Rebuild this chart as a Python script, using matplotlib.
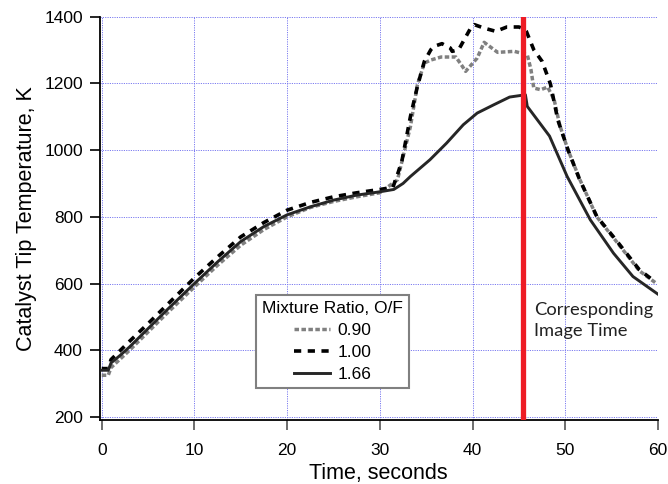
import matplotlib
matplotlib.use("Agg")
import matplotlib.pyplot as plt

# ---- data ----
t_090 = [0, 0.7, 1.0, 3, 5, 7, 10, 12.5, 15, 17.5, 20, 22.5, 25, 27.5, 30, 31.9, 32.6, 33.3,
         34.05, 34.8, 35.5, 36.6, 38.2, 38.9, 39.25, 40.5, 41.25, 42.7, 44.5, 45.9, 46.3, 46.6,
         47.35, 48.1, 48.8, 49.4, 50.3, 51.6, 53.4, 55.4, 58.0, 59.7]
T_090 = [325, 325, 348, 400, 455, 510, 590, 655, 715, 762, 800, 828, 846, 860, 872, 911, 991, 1071,
         1196, 1261, 1270, 1279, 1279, 1251, 1236, 1276, 1323, 1293, 1296, 1286, 1241, 1186,
         1181, 1189, 1151, 1075, 1000, 910, 800, 730, 638, 603]

t_100 = [0, 0.7, 1.0, 3, 5, 7, 10, 12.5, 15, 17.5, 20, 22.5, 25, 27.5, 30, 31.4, 32.0, 32.4,
         33.3, 34.05, 34.8, 35.5, 35.85, 36.7, 37.6, 37.8, 38.5, 39.3, 39.8, 40.2, 41.2, 42.5,
         43.7, 45.0, 45.6, 45.8, 46.6, 47.5, 48.4, 49.2, 50.3, 51.5, 53.4, 55.4, 58.0, 59.7]
T_100 = [345, 345, 372, 427, 480, 535, 617, 680, 740, 783, 820, 843, 860, 872, 882, 888, 935, 971,
         1101, 1191, 1266, 1301, 1311, 1319, 1306, 1296, 1301, 1341, 1366, 1376, 1366, 1356,
         1369, 1369, 1362, 1356, 1301, 1266, 1198, 1090, 1000, 915, 801, 733, 641, 605]

t_166 = [0, 0.7, 1.0, 2, 3, 5, 7, 10, 12.5, 15, 17.5, 20, 22.5, 25, 27.5, 30, 31.5, 32.5, 33.3,
         35.4, 37.2, 39.0, 40.5, 42.3, 44.0, 45.0, 45.7, 45.9, 48.3, 50.2, 52.7, 55.2,
         57.3, 60]
T_166 = [340, 340, 362, 385, 410, 465, 520, 600, 665, 726, 771, 806, 830, 850, 865, 875, 882, 900,
         921, 971, 1021, 1076, 1111, 1136, 1159, 1163, 1166, 1131, 1042, 921, 791, 691,
         621, 568]

series_labels = ["0.90", "1.00", "1.66"]
legend_title = "Mixture Ratio, O/F"
image_time = 45.4
x_ticks = [0, 10, 20, 30, 40, 50, 60]
y_ticks = [200, 400, 600, 800, 1000, 1200, 1400]

# ---- figure ----
plt.rcParams['font.family'] = ['Liberation Sans', 'DejaVu Sans']
fig = plt.figure(figsize=(6.68, 4.84), dpi=100)
ax = fig.add_axes([0.149, 0.1316, 0.836, 0.834])

ax.plot(t_090, T_090, color='#808080', lw=2.5, dashes=(1.3, 0.7), label=series_labels[0], zorder=3)
ax.plot(t_100, T_100, color='black', lw=2.6, dashes=(2.0, 1.8), label=series_labels[1], zorder=4)
ax.plot(t_166, T_166, color='#262626', lw=2.1, label=series_labels[2], zorder=5)

ax.plot([image_time, image_time], [200, 1400], color='#ee1c25', lw=3.8, zorder=6)
ax.text(46.6, 489, "Corresponding\nImage Time", family=['Lato', 'DejaVu Sans'],
        fontsize=13.2, va='center', ha='left', linespacing=1.35, color='#222222')

ax.set_xlim(-0.24, 60)
ax.set_ylim(190, 1400)
ax.set_xticks(x_ticks)
ax.set_yticks(y_ticks)
ax.grid(True, color='#7b7bf0', linestyle=(0, (1.2, 1.2)), linewidth=0.7)
ax.set_axisbelow(True)
for s in ['top', 'right']:
    ax.spines[s].set_visible(False)
for s in ['left', 'bottom']:
    ax.spines[s].set_linewidth(1.3)
ax.tick_params(axis='both', direction='out', length=7, width=1.2, labelsize=12.5)
ax.tick_params(axis='y', pad=5)
ax.tick_params(axis='x', pad=9, color='#555555')

ax.set_xlabel("Time, seconds", fontsize=15.5, labelpad=4)
ax.set_ylabel("Catalyst Tip Temperature, K", fontsize=15.5, labelpad=5)

leg = ax.legend(title=legend_title, loc='upper left', bbox_to_anchor=(0.280, 0.3105),
                borderaxespad=0, fontsize=12.5, title_fontsize=12.5, fancybox=False,
                framealpha=1, edgecolor='#808080', handlelength=2.1, handletextpad=0.4,
                labelspacing=0.4, borderpad=0.35)
leg.get_frame().set_linewidth(1.5)

fig.savefig("out.png", dpi=100)
